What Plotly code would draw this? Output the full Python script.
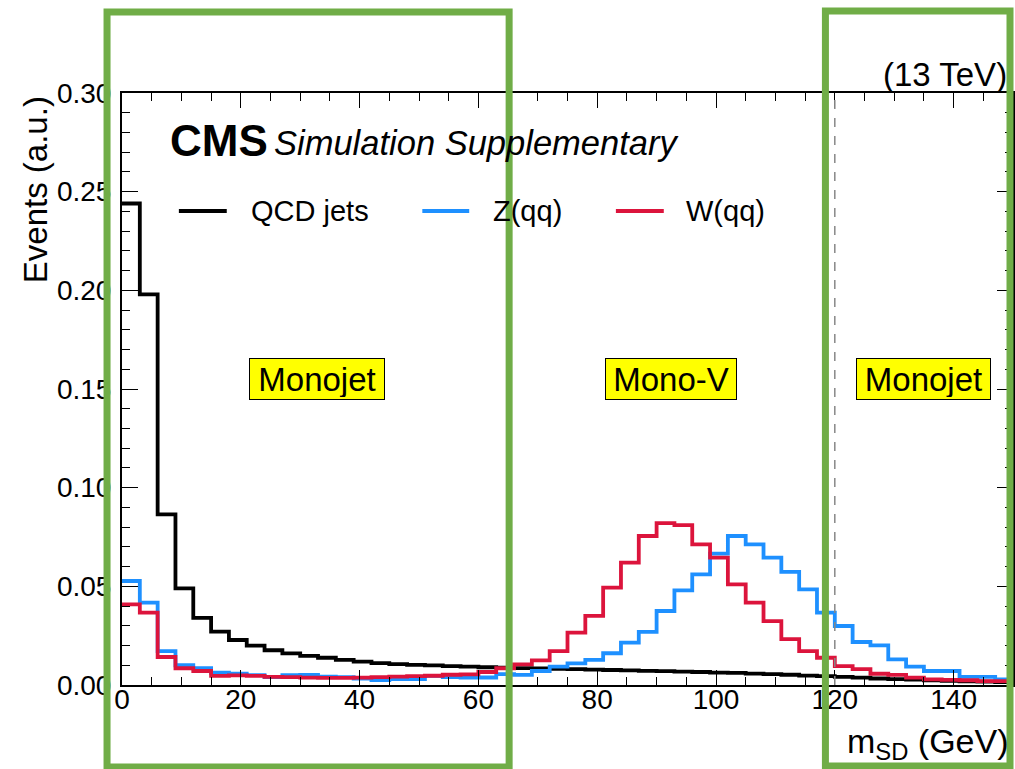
import plotly.graph_objects as go

# ---------------- data ----------------
BIN_EDGES = list(range(0, 151, 3))  # 3 GeV bins, 0-150 GeV

qcd_jets = [0.2440, 0.1980, 0.0865, 0.0490, 0.0340, 0.0270, 0.0228, 0.0200, 0.0176, 0.0160,
            0.0148, 0.0138, 0.0127, 0.0118, 0.0111, 0.0106, 0.0102, 0.0099, 0.0096, 0.0093,
            0.0090, 0.0088, 0.0086, 0.0084, 0.0082, 0.0080, 0.0078, 0.0076, 0.0074, 0.0072,
            0.0070, 0.0068, 0.0066, 0.0063, 0.0061, 0.0058, 0.0055, 0.0052, 0.0048, 0.0045,
            0.0041, 0.0037, 0.0033, 0.0030, 0.0027, 0.0024, 0.0021, 0.0019, 0.0017, 0.0015]

z_qq = [0.0527, 0.0417, 0.0172, 0.0100, 0.0085, 0.0062, 0.0057, 0.0050, 0.0040, 0.0050,
        0.0051, 0.0042, 0.0040, 0.0032, 0.0025, 0.0030, 0.0030, 0.0046, 0.0040, 0.0038,
        0.0038, 0.0055, 0.0051, 0.0071, 0.0093, 0.0110, 0.0127, 0.0161, 0.0215, 0.0269,
        0.0375, 0.0480, 0.0561, 0.0666, 0.0755, 0.0713, 0.0645, 0.0573, 0.0485, 0.0367,
        0.0299, 0.0218, 0.0201, 0.0130, 0.0093, 0.0071, 0.0071, 0.0041, 0.0041, 0.0029]

w_qq = [0.0409, 0.0367, 0.0142, 0.0085, 0.0071, 0.0046, 0.0049, 0.0046, 0.0041, 0.0040,
        0.0037, 0.0036, 0.0036, 0.0037, 0.0040, 0.0042, 0.0045, 0.0047, 0.0052, 0.0054,
        0.0066, 0.0085, 0.0105, 0.0125, 0.0172, 0.0265, 0.0350, 0.0493, 0.0620, 0.0755,
        0.0820, 0.0810, 0.0713, 0.0645, 0.0510, 0.0417, 0.0324, 0.0232, 0.0172, 0.0138,
        0.0096, 0.0080, 0.0057, 0.0051, 0.0037, 0.0029, 0.0026, 0.0024, 0.0020, 0.0020]

series_names = ["QCD jets", "Z(qq)", "W(qq)"]
series_colors = ["#000000", "#1E90FF", "#DC143C"]

region_labels = ["Monojet", "Mono-V", "Monojet"]
region_label_x = [32.8, 92.4, 135.0]
region_label_y = 0.155
monov_upper_cut = 120

X_RANGE = [0, 150]
Y_RANGE = [0, 0.30]

# ---------------- layout geometry (pixels) ----------------
W, H = 1015, 769
ML, MR, MT, MB = 122, 0, 93, 84
PW, PH = W - ML - MR, H - MT - MB


def px(x):
    return (x - ML) / PW


def py(y):
    return (H - MB - y) / PH


FONT = "Liberation Sans, Arial, Helvetica, sans-serif"
LINE_W = 3.8

fig = go.Figure()

for vals, name, col in zip([qcd_jets, z_qq, w_qq], series_names, series_colors):
    fig.add_trace(go.Scatter(
        x=BIN_EDGES, y=vals + [vals[-1]], mode="lines", line_shape="hv",
        line=dict(color=col, width=LINE_W), name=name, showlegend=False,
    ))

axis_common = dict(
    showline=True, linecolor="black", linewidth=2, mirror="allticks",
    ticks="inside", tickcolor="black", tickwidth=1.2,
    showgrid=False, zeroline=False,
    tickfont=dict(family=FONT, size=28, color="black"),
)

fig.update_layout(
    width=W, height=H,
    margin=dict(l=ML, r=MR, t=MT, b=MB, pad=0),
    paper_bgcolor="white", plot_bgcolor="white",
    showlegend=False,
    xaxis=dict(range=X_RANGE, dtick=20, ticklen=15, ticklabelstandoff=-12,
               minor=dict(dtick=5, ticklen=8, ticks="inside", tickcolor="black", tickwidth=1),
               **axis_common),
    yaxis=dict(range=Y_RANGE, dtick=0.05, tickformat=".2f", ticklen=16, ticklabelstandoff=3,
               minor=dict(dtick=0.01, ticklen=8, ticks="inside", tickcolor="black", tickwidth=1),
               **axis_common),
)

# legend (drawn in ROOT style: long line sample + label)
legend_line_px = [(179, 227), (423, 470), (617, 665)]
legend_text_px = [249, 492, 685]
LEG_Y = 211
for name, col, (l0, l1), tx in zip(series_names, series_colors, legend_line_px, legend_text_px):
    fig.add_shape(type="line", xref="paper", yref="paper", x0=px(l0), x1=px(l1),
                  y0=py(LEG_Y), y1=py(LEG_Y), line=dict(color=col, width=LINE_W))
    fig.add_annotation(x=px(tx), y=py(LEG_Y), xref="paper", yref="paper", text=name,
                       showarrow=False, xanchor="left", yanchor="middle",
                       font=dict(family=FONT, size=29, color="black"))

# dashed line marking the Mono-V upper mass window
fig.add_shape(type="line", xref="x", yref="paper", x0=monov_upper_cut, x1=monov_upper_cut,
              y0=0, y1=1, line=dict(color="#888888", width=1.5, dash="dash"), layer="above")

# region label boxes
box_w = [130, 126, 129]
for lab, lx, bw in zip(region_labels, region_label_x, box_w):
    fig.add_annotation(x=lx, y=region_label_y, xref="x", yref="y", text=lab, showarrow=False,
                       font=dict(family=FONT, size=33, color="black"),
                       bgcolor="#FFFF00", bordercolor="black", borderwidth=1,
                       width=bw, height=36, borderpad=2)

# texts
fig.add_annotation(x=px(168), y=py(141), xref="paper", yref="paper", text="<b>CMS</b>",
                   showarrow=False, xanchor="left", yanchor="middle",
                   font=dict(family=FONT, size=44, color="black"))
fig.add_annotation(x=px(272), y=py(143), xref="paper", yref="paper",
                   text="<i>Simulation Supplementary</i>",
                   showarrow=False, xanchor="left", yanchor="middle",
                   font=dict(family=FONT, size=34.5, color="black"))
fig.add_annotation(x=px(1011), y=py(74), xref="paper", yref="paper", text="(13 TeV)",
                   showarrow=False, xanchor="right", yanchor="middle",
                   font=dict(family=FONT, size=33, color="black"))
fig.add_annotation(x=px(36), y=py(190), xref="paper", yref="paper", text="Events (a.u.)",
                   showarrow=False, textangle=-90, xanchor="center", yanchor="middle",
                   font=dict(family=FONT, size=33, color="black"))
fig.add_annotation(x=px(1013), y=py(744), xref="paper", yref="paper",
                   text="m<sub>SD</sub> (GeV)",
                   showarrow=False, xanchor="right", yanchor="middle",
                   font=dict(family=FONT, size=34, color="black"))

# green highlight rectangles (overlay)
GREEN = "#70AD47"
for (x0, y0, x1, y1) in [(107, 12, 510, 767), (827, 11, 1012, 766)]:
    fig.add_shape(type="rect", xref="paper", yref="paper",
                  x0=px(x0), x1=px(x1), y0=py(y1), y1=py(y0),
                  line=dict(color=GREEN, width=7), fillcolor="rgba(0,0,0,0)", layer="above")

fig.write_html("out.html")
